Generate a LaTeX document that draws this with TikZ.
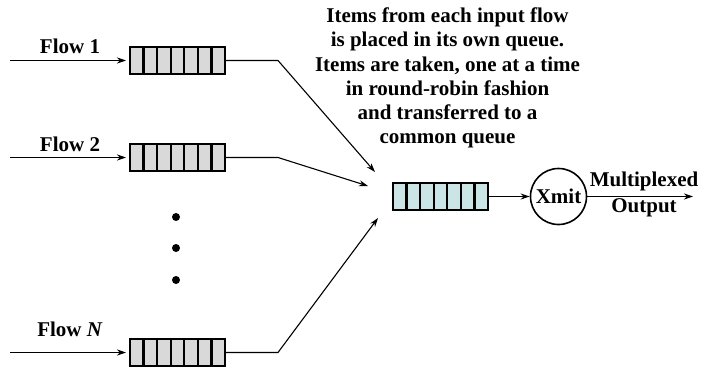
\documentclass[tikz,border=0pt]{standalone}
\usepackage{fontspec}
\setmainfont{Liberation Serif}
\usetikzlibrary{arrows.meta,positioning}
\definecolor{qgray}{RGB}{217,217,217}
\definecolor{qcyan}{RGB}{203,228,230}
\tikzset{
  arr/.style={line width=1.1pt, -{Stealth[length=9pt,width=6pt]}},
  lbl/.style={font=\bfseries\fontsize{21}{24}\selectfont, inner sep=0pt},
  queue/.style={draw, line width=2pt, fill=qgray, inner sep=0pt,
    minimum width=95pt, minimum height=27pt,
    path picture={\foreach \k in {1,...,6}{
      \draw[line width=2.4pt] ([xshift={\k*95pt/7}]path picture bounding box.north west)
        -- ([xshift={\k*95pt/7}]path picture bounding box.south west);}}},
  dot/.style={circle, fill, inner sep=0pt, minimum size=8pt},
}
\begin{document}
\begin{tikzpicture}[x=1pt, y=-1pt]
  \useasboundingbox (0,0) rectangle (701,369);

  % input flows
  \node[queue] (q1) at (177.5,60.5) {};
  \node[queue] (q2) at (177.5,157.5) {};
  \node[queue] (qn) at (177.5,352.5) {};
  \node[lbl, anchor=base] (f1) at (70,54) {Flow 1};
  \node[lbl, anchor=base] (f2) at (70,151) {Flow 2};
  \node[lbl, anchor=base] (fn) at (70,336) {Flow \textit{N}};
  \coordinate (s1) at (10,60.5);
  \coordinate (s2) at (10,157.5);
  \coordinate (sn) at (10,352.5);
  \draw[arr, shorten >=3pt] (s1) -- (q1.west);
  \draw[arr, shorten >=3pt] (s2) -- (q2.west);
  \draw[arr, shorten >=3pt] (sn) -- (qn.west);

  % dots
  \node[dot] (d1) at (176,217) {};
  \node[dot] (d2) at (176,248) {};
  \node[dot] (d3) at (176,280) {};

  % round-robin into common queue
  \coordinate (b1) at (278,60.5);
  \coordinate (b2) at (278,157.5);
  \coordinate (bn) at (278,352.5);
  \coordinate (t1) at (375,172);
  \coordinate (t2) at (368,186);
  \coordinate (tn) at (378,218);
  \draw[arr] (q1.east) -- (b1) -- (t1);
  \draw[arr] (q2.east) -- (b2) -- (t2);
  \draw[arr] (qn.east) -- (bn) -- (tn);

  % common queue and transmitter
  \node[queue, fill=qcyan] (cq) at (440.5,196.5) {};
  \node[lbl, draw, circle, line width=1.6pt, minimum size=56pt] (xmit) at (558.5,196.5) {Xmit};
  \coordinate (out) at (693,196.5);
  \draw[arr] (cq) -- (xmit);
  \draw[arr] (xmit) -- (out);
  \node[lbl, align=center, anchor=north, font=\bfseries\fontsize{21}{26}\selectfont] (mux) at (644,172) {Multiplexed\\Output};

  % note
  \node[lbl, align=center, anchor=north, font=\bfseries\fontsize{21}{24.3}\selectfont] (note) at (447.5,7.5)
    {Items from each input flow\\is placed in its own queue.\\Items are taken, one at a time\\in round-robin fashion\\and transferred to a\\common queue};
\end{tikzpicture}
\end{document}
